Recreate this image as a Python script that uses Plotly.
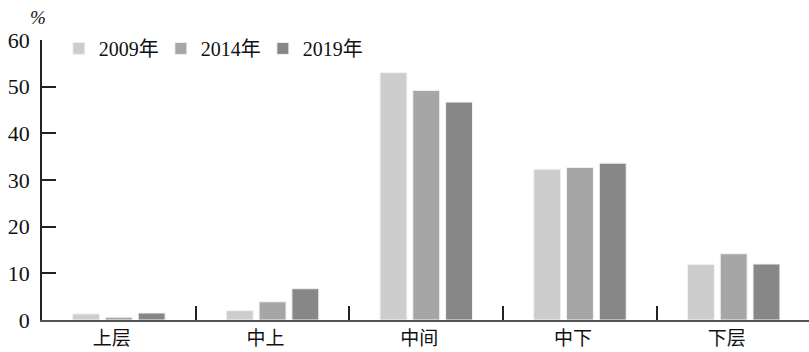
import plotly.graph_objects as go

# Share of population by social stratum (%)
categories = ["上层", "中上", "中间", "中下", "下层"]
years = ["2009年", "2014年", "2019年"]
values_2009 = [1.3, 2.0, 53.0, 32.3, 11.9]
values_2014 = [0.6, 3.9, 49.2, 32.7, 14.2]
values_2019 = [1.5, 6.7, 46.7, 33.6, 12.0]
colors = ["#cdcdcd", "#a6a6a6", "#878787"]
y_ticks = [0, 10, 20, 30, 40, 50, 60]

serif = "Liberation Serif, 'Noto Sans CJK SC', serif"

fig = go.Figure()
for name, vals, col in zip(years, [values_2009, values_2014, values_2019], colors):
    fig.add_trace(go.Bar(
        x=categories, y=vals, name=name,
        marker=dict(color=col, line=dict(color="#f2f2f2", width=1)),
    ))

fig.update_layout(
    width=809, height=352,
    margin=dict(l=42, r=0, t=40, b=32),
    paper_bgcolor="white", plot_bgcolor="white",
    barmode="group", bargap=0.36, bargroupgap=0.18,
    font=dict(family=serif, size=20, color="#111"),
    showlegend=True,
    legend=dict(
        orientation="h", x=0.022, y=0.97, xanchor="left", yanchor="middle",
        font=dict(family=serif, size=20, color="#111"),
        itemwidth=30, tracegroupgap=0, bgcolor="rgba(0,0,0,0)",
        entrywidth=57, entrywidthmode="pixels",
    ),
    annotations=[dict(
        text="<i>%</i>", x=0, xref="paper", xanchor="right", xshift=6,
        y=1.0, yref="paper", yanchor="bottom", yshift=10,
        showarrow=False, font=dict(family=serif, size=19, color="#111"),
    )],
)

fig.update_xaxes(
    type="category", range=[-0.5, 4.49], automargin=False,
    showline=True, linecolor="#555", linewidth=2,
    ticks="inside", tickson="boundaries", ticklen=14, tickwidth=1.5, tickcolor="#222",
    showgrid=False, zeroline=False, ticklabelshift=-7, ticklabelstandoff=0,
    tickfont=dict(family=serif, size=19, color="#111"),
)
fig.update_yaxes(
    range=[0, 60], tickvals=y_ticks, automargin=False,
    showline=True, linecolor="#222", linewidth=1.5,
    ticks="inside", ticklen=14, tickwidth=1.5, tickcolor="#222",
    showgrid=False, zeroline=False, ticklabelstandoff=6,
    tickfont=dict(family=serif, size=22, color="#111"),
)

fig.write_html("out.html")
